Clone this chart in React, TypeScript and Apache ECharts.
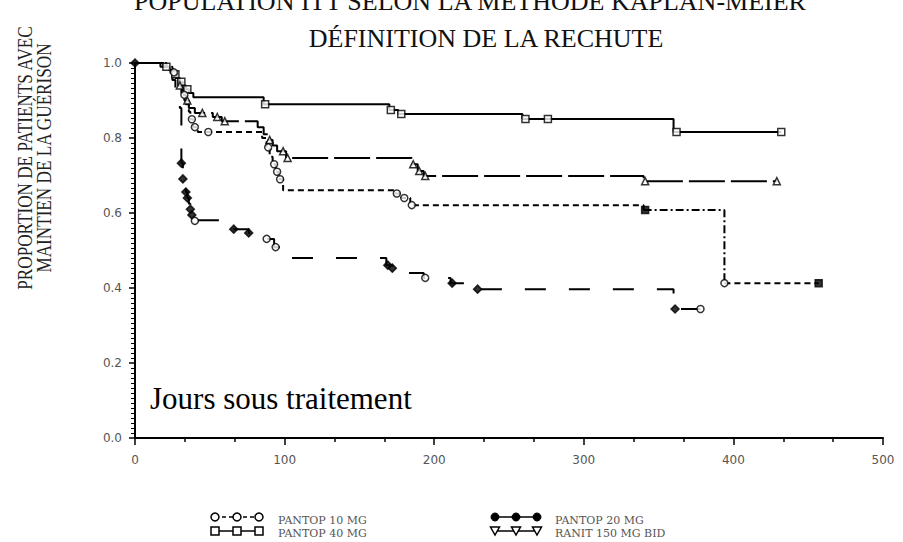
import React, { useEffect, useRef } from "react";
import * as echarts from "echarts";

const title1 = "POPULATION ITT SELON LA MÉTHODE KAPLAN-MEIER";
const title2 = "DÉFINITION DE LA RECHUTE";
const yTitle1 = "PROPORTION DE PATIENTS AVEC";
const yTitle2 = "MAINTIEN DE LA GUÉRISON";
const xTitle = "Jours sous traitement";
const legendNames = ["PANTOP 10 MG", "PANTOP 40 MG", "PANTOP 20 MG", "RANIT 150 MG BID"];

const xTicks = [0, 100, 200, 300, 400, 500];
const yTicks = [0, 0.2, 0.4, 0.6, 0.8, 1.0];

// Kaplan-Meier steps: [day, proportion]
const pantop40: [number, number][] = [
  [0, 1], [19, 0.99], [23, 0.98], [26, 0.97], [28, 0.96], [30, 0.95], [32, 0.94], [34, 0.93],
  [36, 0.92], [39, 0.909], [86, 0.89], [170, 0.875], [176, 0.864], [259, 0.851], [360, 0.816], [432, 0.816],
];
const pantop40Censor: [number, number][] = [
  [21, 0.99], [27, 0.97], [31, 0.95], [35, 0.93], [87, 0.89], [171, 0.875], [178, 0.864],
  [261, 0.851], [276, 0.851], [362, 0.816], [432, 0.816],
];

const pantop20: [number, number][] = [
  [0, 1], [17, 0.99], [24, 0.975], [27, 0.96], [29, 0.94], [31, 0.92], [33, 0.9], [36, 0.88],
  [40, 0.867], [52, 0.856], [58, 0.845], [82, 0.829], [86, 0.81], [89, 0.795], [92, 0.78],
  [95, 0.765], [101, 0.747], [185, 0.73], [189, 0.712], [193, 0.699], [340, 0.685], [429, 0.685],
];
const pantop20Censor: [number, number][] = [
  [30, 0.94], [35, 0.9], [45, 0.867], [55, 0.856], [60, 0.845], [90, 0.795], [99, 0.765],
  [102, 0.747], [186, 0.73], [190, 0.712], [194, 0.699], [341, 0.685], [429, 0.685],
];

const pantop10: [number, number][] = [
  [0, 1], [21, 0.99], [25, 0.975], [28, 0.955], [30, 0.935], [32, 0.915], [34, 0.89], [36, 0.87],
  [37, 0.85], [39, 0.829], [42, 0.816], [85, 0.8], [88, 0.775], [90, 0.75], [92, 0.73], [94, 0.71],
  [96, 0.69], [99, 0.661], [174, 0.652], [178, 0.64], [184, 0.621], [340, 0.608],
];
const pantop10Late: [number, number][] = [[340, 0.608], [394, 0.413]];
const pantop10Tail: [number, number][] = [[394, 0.413], [457, 0.413]];
const pantop10Censor: [number, number][] = [
  [26, 0.975], [33, 0.915], [38, 0.85], [40, 0.829], [49, 0.816], [89, 0.775], [93, 0.73],
  [95, 0.71], [97, 0.69], [175, 0.652], [180, 0.64], [185, 0.621], [394, 0.413],
];
const pantop10CensorFilled: [number, number][] = [[341, 0.608], [457, 0.413]];

const ranit: [number, number][] = [
  [0, 1], [18, 0.99], [22, 0.975], [25, 0.955], [27, 0.93], [29, 0.905], [30, 0.88], [31, 0.733],
  [32, 0.691], [33, 0.67], [34, 0.656], [35, 0.64], [36, 0.625], [37, 0.61], [38, 0.595],
  [39, 0.581], [57, 0.571], [66, 0.557], [76, 0.547], [87, 0.531], [93, 0.509], [100, 0.48],
  [168, 0.461], [172, 0.453], [179, 0.44], [193, 0.427], [211, 0.413], [228, 0.397], [360, 0.344], [378, 0.344],
];
const ranitCensorFilled: [number, number][] = [
  [0, 1], [31, 0.733], [32, 0.691], [34, 0.656], [35, 0.64], [37, 0.61], [38, 0.595], [66, 0.557],
  [76, 0.547], [169, 0.461], [172, 0.453], [212, 0.413], [229, 0.397], [361, 0.344],
];
const ranitCensorOpen: [number, number][] = [[40, 0.579], [88, 0.531], [94, 0.509], [194, 0.427], [378, 0.344]];

const lineSeries = (name: string, data: [number, number][], type: any, width = 2) => ({
  name,
  type: "line",
  step: "end",
  data,
  symbol: "none",
  lineStyle: { color: "#000", width, type },
  z: 3,
});

const scatterSeries = (name: string, data: [number, number][], symbol: string, filled: boolean, size = 7) => ({
  name,
  type: "scatter",
  data,
  symbol,
  symbolSize: size,
  itemStyle: { color: filled ? "#000" : "#fff", borderColor: "#000", borderWidth: 1.5 },
  z: 5,
});

export default function App() {
  const ref = useRef<HTMLDivElement>(null);
  useEffect(() => {
    if (!ref.current) return;
    const chart = echarts.init(ref.current, null, { renderer: "svg" });
    const serif = "'Liberation Serif', 'Times New Roman', serif";
    const legendFont = "11px 'DejaVu Serif', serif";
    const lx = [215, 237, 259];
    const rx = [495, 516, 537];
    const graphic: any[] = [
      { type: "text", x: 470, y: 1, style: { text: title1, font: `26px ${serif}`, fill: "#111", textAlign: "center", textVerticalAlign: "middle", align: "center", verticalAlign: "middle" } },
      { type: "text", x: 486, y: 38, style: { text: title2, font: `26px ${serif}`, fill: "#111", textAlign: "center", textVerticalAlign: "middle", align: "center", verticalAlign: "middle" } },
      { type: "text", x: 24, y: 158, rotation: Math.PI / 2, scaleX: 0.78, style: { text: yTitle1, font: `22px ${serif}`, fill: "#222", textAlign: "center", textVerticalAlign: "middle", align: "center", verticalAlign: "middle" } },
      { type: "text", x: 43, y: 158, rotation: Math.PI / 2, scaleX: 0.78, style: { text: yTitle2, font: `22px ${serif}`, fill: "#222", textAlign: "center", textVerticalAlign: "middle", align: "center", verticalAlign: "middle" } },
      { type: "text", x: 150, y: 398, style: { text: xTitle, font: `31px ${serif}`, fill: "#000", textAlign: "left", textVerticalAlign: "middle", align: "left", verticalAlign: "middle" } },
      // legend left
      { type: "line", shape: { x1: lx[0], y1: 517, x2: lx[2], y2: 517 }, style: { stroke: "#000", lineWidth: 1.5, lineDash: [4, 3] } },
      ...lx.map((x) => ({ type: "circle", shape: { cx: x, cy: 517, r: 4 }, style: { fill: "#fff", stroke: "#000", lineWidth: 1.5 } })),
      { type: "line", shape: { x1: lx[0], y1: 531, x2: lx[2], y2: 531 }, style: { stroke: "#000", lineWidth: 1.5 } },
      ...lx.map((x) => ({ type: "rect", shape: { x: x - 4, y: 527, width: 8, height: 8 }, style: { fill: "#fff", stroke: "#000", lineWidth: 1.5 } })),
      { type: "text", x: 278, y: 520, style: { text: legendNames[0], font: legendFont, fill: "#555", textVerticalAlign: "middle", verticalAlign: "middle" } },
      { type: "text", x: 278, y: 533, style: { text: legendNames[1], font: legendFont, fill: "#555", textVerticalAlign: "middle", verticalAlign: "middle" } },
      // legend right
      { type: "line", shape: { x1: rx[0], y1: 517, x2: rx[2], y2: 517 }, style: { stroke: "#000", lineWidth: 1.5 } },
      ...rx.map((x) => ({ type: "circle", shape: { cx: x, cy: 517, r: 4 }, style: { fill: "#000", stroke: "#000", lineWidth: 1 } })),
      { type: "line", shape: { x1: rx[0], y1: 531, x2: rx[2], y2: 531 }, style: { stroke: "#000", lineWidth: 1.5 } },
      ...rx.map((x) => ({ type: "polygon", shape: { points: [[x - 4.5, 527], [x + 4.5, 527], [x, 535]] }, style: { fill: "#fff", stroke: "#000", lineWidth: 1.5 } })),
      { type: "text", x: 555, y: 520, style: { text: legendNames[2], font: legendFont, fill: "#555", textVerticalAlign: "middle", verticalAlign: "middle" } },
      { type: "text", x: 555, y: 533, style: { text: legendNames[3], font: legendFont, fill: "#555", textVerticalAlign: "middle", verticalAlign: "middle" } },
    ];

    chart.setOption({
      animation: false,
      backgroundColor: "#fff",
      grid: { left: 135, right: 20, top: 63, bottom: 104, containLabel: false },
      xAxis: {
        type: "value",
        min: xTicks[0],
        max: xTicks[xTicks.length - 1],
        interval: 100,
        axisLine: { show: true, lineStyle: { color: "#000", width: 2 } },
        axisTick: { show: true, length: 7, lineStyle: { color: "#000", width: 1.5 } },
        minorTick: { show: true, splitNumber: 3, length: 4, lineStyle: { color: "#000", width: 1.5 } },
        splitLine: { show: false },
        axisLabel: { color: "#555", fontSize: 12, fontFamily: "'DejaVu Sans', sans-serif", margin: 16 },
      },
      yAxis: {
        type: "value",
        min: yTicks[0],
        max: yTicks[yTicks.length - 1],
        interval: 0.2,
        axisLine: { show: true, lineStyle: { color: "#000", width: 2 } },
        axisTick: { show: true, length: 6, lineStyle: { color: "#000", width: 1.5 } },
        minorTick: { show: true, splitNumber: 15, length: 4, lineStyle: { color: "#000", width: 1 } },
        splitLine: { show: false },
        axisLabel: { color: "#555", fontSize: 12, fontFamily: "'DejaVu Sans', sans-serif", margin: 13, formatter: (v: number) => v.toFixed(1) },
      },
      series: [
        lineSeries(legendNames[1], pantop40, "solid"),
        scatterSeries(legendNames[1], pantop40Censor, "rect", false),
        lineSeries(legendNames[2], pantop20, [36, 6]),
        scatterSeries(legendNames[2], pantop20Censor, "triangle", false),
        lineSeries(legendNames[0], pantop10, [6, 4]),
        lineSeries(legendNames[0], pantop10Late, [8, 3, 2, 3]),
        lineSeries(legendNames[0], pantop10Tail, [6, 4]),
        scatterSeries(legendNames[0], pantop10Censor, "circle", false),
        scatterSeries(legendNames[0], pantop10CensorFilled, "rect", true),
        lineSeries(legendNames[3], ranit, [21, 23]),
        scatterSeries(legendNames[3], ranitCensorFilled, "diamond", true, 8),
        scatterSeries(legendNames[3], ranitCensorOpen, "circle", false),
      ],
      graphic,
    });
    return () => chart.dispose();
  }, []);
  return <div ref={ref} style={{ position: "fixed", left: 0, top: 0, width: 903, height: 542, background: "#fff" }} />;
}
